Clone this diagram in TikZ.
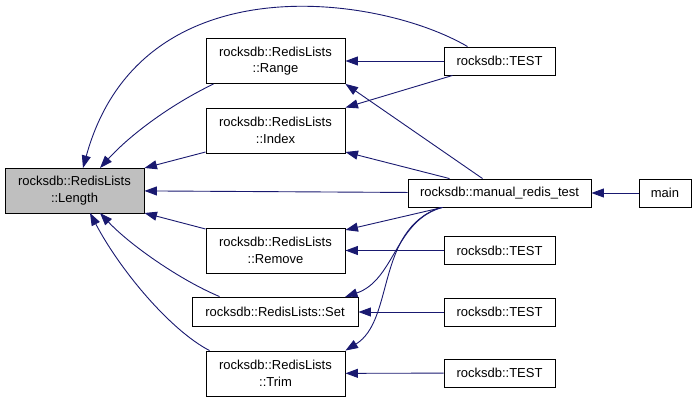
\documentclass[tikz,border=0pt]{standalone}
\usepackage{fontspec}
\setmainfont{Liberation Sans}
\usetikzlibrary{arrows.meta}
\definecolor{navy}{HTML}{191970}

\begin{document}
\begin{tikzpicture}[x=1pt, y=-1pt,
    fn/.style={draw, line width=0.9pt, inner sep=0pt, minimum width=139pt, minimum height=45pt, align=center, font=\fontsize{13}{16.5}\selectfont},
    caller/.style={fn, minimum width=111pt, minimum height=28pt},
    call/.style={-{Triangle[length=12.5pt,width=9pt]}, color=navy, line width=0.9pt}]
      \useasboundingbox (0, 0) rectangle (696, 401);
      \node[fn, fill={rgb,255:red,191;green,191;blue,191}] (Length) at (74.5, 190.5) {rocksdb::RedisLists\\::Length};
      \node[fn] (Range) at (275.5, 61) {rocksdb::RedisLists\\::Range};
      \node[fn] (Index) at (275.5, 130.5) {rocksdb::RedisLists\\::Index};
      \node[fn] (Remove) at (275.5, 250.5) {rocksdb::RedisLists\\::Remove};
      \node[fn, minimum width=166pt, minimum height=29pt] (Set) at (275, 311.5) {rocksdb::RedisLists::Set};
      \node[fn] (Trim) at (275.5, 373.5) {rocksdb::RedisLists\\::Trim};
      \node[caller] (Test Range) at (499.5, 61) {rocksdb::TEST};
      \node[caller, minimum width=183pt] (Manual Test) at (499.5, 193) {rocksdb::manual\_redis\_test};
      \node[caller, minimum width=52pt] (Main) at (665, 193) {main};
      \node[caller] (Test Remove) at (499.5, 250.5) {rocksdb::TEST};
      \node[caller] (Test Set) at (499.5, 312) {rocksdb::TEST};
      \node[caller] (Test Trim) at (499.5, 373) {rocksdb::TEST};
      % calls into Length
      \draw[call] (Test Range.north) ++(-32, 0) .. controls (380, -5) and (140, -40) .. (83, 168);
      \draw[call] (Range.south west) ++(8, 0) .. controls (170, 105) and (130, 135) .. (100, 168);
      \draw[call] (Index.west |- 0, 152) -- (Length.east |- 0, 168);
      \draw[call] (Manual Test) -- (Length);
      \draw[call] (Remove.west |- 0, 229) -- (Length.east |- 0, 213);
      \draw[call] (Set.north west) ++(28, 0) .. controls (180, 280) and (130, 245) .. (100, 213);
      \draw[call] (Trim.north west) ++(4, 0) .. controls (170, 330) and (120, 270) .. (90, 213);
      % calls into the list functions
      \draw[call] (Test Range) -- (Range);
      \draw[call] (Test Range.south west) ++(9, 0) -- (Index.north east);
      \draw[call] (Manual Test.north) ++(-17, 0) -- (Range.south east);
      \draw[call] (Manual Test.north) ++(-50, 0) -- (Index.east |- 0, 152);
      \draw[call] (Main) -- (Manual Test);
      \draw[call] (Manual Test.south) ++(-57, 0) -- (Remove.east |- 0, 230);
      \draw[call] (Test Remove) -- (Remove);
      \draw[call] (Manual Test.south) ++(-57, 0) .. controls (395, 220) and (395, 280) .. (345, 297);
      \draw[call] (Test Set) -- (Set.east |- Test Set);
      \draw[call] (Manual Test.south) ++(-59, 0) .. controls (375, 230) and (395, 320) .. (Trim.north east);
      \draw[call] (Test Trim) -- (Trim);
\end{tikzpicture}
\end{document}
